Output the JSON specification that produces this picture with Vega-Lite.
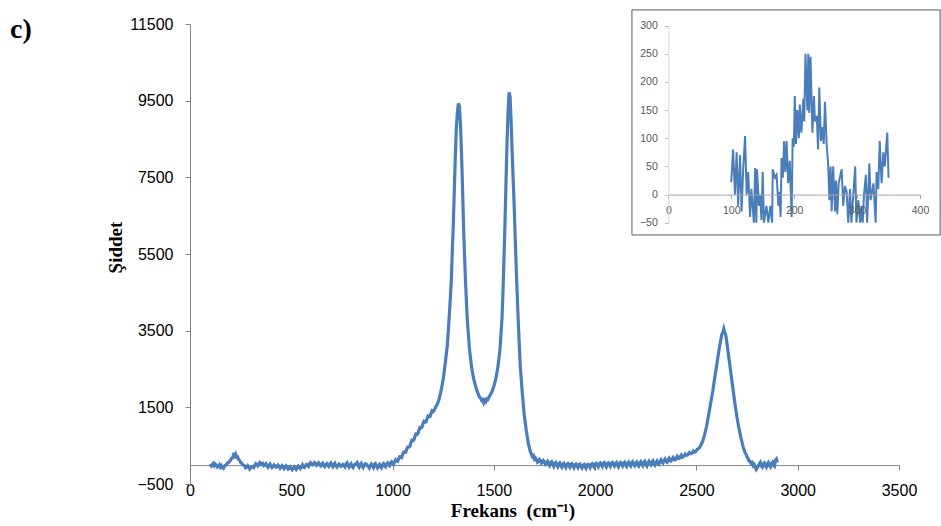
{
  "$schema": "https://vega.github.io/schema/vega-lite/v6.json",
  "width": 709,
  "height": 460,
  "autosize": {"type": "none"},
  "padding": {"left": 190, "top": 24, "right": 42, "bottom": 42},
  "background": "white",
  "config": {"view": {"stroke": null}, "axis": {"grid": false}},
  "title": {"text": "c)", "anchor": "start", "frame": "group", "font": "Liberation Serif", "fontWeight": "bold", "fontSize": 28, "color": "#000000", "offset": -19, "dx": -180, "dy": 38, "baseline": "alphabetic"},
  "datasets": {
    "main": [
      {"f":100,"i":20},{"f":105,"i":-30},{"f":110,"i":10},{"f":115,"i":40},{"f":120,"i":-20},{"f":125,"i":20},{"f":130,"i":-10},{"f":135,"i":-60},{"f":140,"i":-40},{"f":145,"i":0},{"f":150,"i":-60},{"f":155,"i":-20},{"f":160,"i":-70},{"f":165,"i":-90},{"f":170,"i":-40},{"f":175,"i":-10},{"f":180,"i":0},{"f":185,"i":50},{"f":190,"i":60},{"f":195,"i":90},{"f":200,"i":120},{"f":205,"i":170},{"f":210,"i":180},{"f":215,"i":260},{"f":220,"i":230},{"f":225,"i":280},{"f":230,"i":200},{"f":235,"i":210},{"f":240,"i":140},{"f":245,"i":110},{"f":250,"i":60},{"f":255,"i":50},{"f":260,"i":0},{"f":265,"i":-10},{"f":270,"i":-30},{"f":275,"i":-80},{"f":280,"i":-60},{"f":285,"i":-20},{"f":290,"i":-50},{"f":295,"i":-110},{"f":300,"i":-80},{"f":305,"i":-50},{"f":310,"i":-40},{"f":315,"i":-70},{"f":320,"i":-20},{"f":325,"i":30},{"f":330,"i":10},{"f":335,"i":-30},{"f":340,"i":0},{"f":345,"i":60},{"f":350,"i":40},{"f":355,"i":10},{"f":360,"i":30},{"f":365,"i":-20},{"f":370,"i":0},{"f":375,"i":30},{"f":380,"i":-20},{"f":385,"i":-60},{"f":390,"i":-10},{"f":395,"i":20},{"f":400,"i":-30},{"f":405,"i":-70},{"f":410,"i":-40},{"f":415,"i":0},{"f":420,"i":-20},{"f":425,"i":-60},{"f":430,"i":-50},{"f":435,"i":-10},{"f":440,"i":-40},{"f":445,"i":-90},{"f":450,"i":-60},{"f":455,"i":-20},{"f":460,"i":-50},{"f":465,"i":-100},{"f":470,"i":-70},{"f":475,"i":-30},{"f":480,"i":-60},{"f":485,"i":-110},{"f":490,"i":-90},{"f":495,"i":-50},{"f":500,"i":-80},{"f":505,"i":-130},{"f":510,"i":-100},{"f":515,"i":-50},{"f":520,"i":-70},{"f":525,"i":-120},{"f":530,"i":-80},{"f":535,"i":-30},{"f":540,"i":-50},{"f":545,"i":-90},{"f":550,"i":-40},{"f":555,"i":0},{"f":560,"i":-60},{"f":565,"i":-70},{"f":570,"i":-30},{"f":575,"i":10},{"f":580,"i":-10},{"f":585,"i":-40},{"f":590,"i":20},{"f":595,"i":60},{"f":600,"i":30},{"f":605,"i":0},{"f":610,"i":10},{"f":615,"i":60},{"f":620,"i":40},{"f":625,"i":-10},{"f":630,"i":20},{"f":635,"i":50},{"f":640,"i":0},{"f":645,"i":-30},{"f":650,"i":10},{"f":655,"i":40},{"f":660,"i":-20},{"f":665,"i":-50},{"f":670,"i":0},{"f":675,"i":30},{"f":680,"i":-10},{"f":685,"i":-40},{"f":690,"i":20},{"f":695,"i":50},{"f":700,"i":-10},{"f":705,"i":-50},{"f":710,"i":10},{"f":715,"i":40},{"f":720,"i":-30},{"f":725,"i":-60},{"f":730,"i":-20},{"f":735,"i":20},{"f":740,"i":0},{"f":745,"i":-40},{"f":750,"i":-30},{"f":755,"i":10},{"f":760,"i":-10},{"f":765,"i":-50},{"f":770,"i":20},{"f":775,"i":50},{"f":780,"i":-20},{"f":785,"i":-60},{"f":790,"i":0},{"f":795,"i":30},{"f":800,"i":-40},{"f":805,"i":-70},{"f":810,"i":-10},{"f":815,"i":20},{"f":820,"i":30},{"f":825,"i":60},{"f":830,"i":-20},{"f":835,"i":-60},{"f":840,"i":10},{"f":845,"i":40},{"f":850,"i":-30},{"f":855,"i":-70},{"f":860,"i":-10},{"f":865,"i":30},{"f":870,"i":20},{"f":875,"i":-30},{"f":880,"i":-40},{"f":885,"i":-80},{"f":890,"i":-10},{"f":895,"i":20},{"f":900,"i":-30},{"f":905,"i":-70},{"f":910,"i":10},{"f":915,"i":30},{"f":920,"i":-40},{"f":925,"i":-80},{"f":930,"i":-20},{"f":935,"i":10},{"f":940,"i":-50},{"f":945,"i":-80},{"f":950,"i":0},{"f":955,"i":30},{"f":960,"i":-20},{"f":965,"i":-50},{"f":970,"i":20},{"f":975,"i":50},{"f":980,"i":10},{"f":985,"i":-20},{"f":990,"i":40},{"f":995,"i":80},
      {"f":1000,"i":50},{"f":1005,"i":20},{"f":1010,"i":80},{"f":1015,"i":130},{"f":1020,"i":100},{"f":1025,"i":90},{"f":1030,"i":160},{"f":1035,"i":210},{"f":1040,"i":200},{"f":1045,"i":190},{"f":1050,"i":280},{"f":1055,"i":330},{"f":1060,"i":320},{"f":1065,"i":330},{"f":1070,"i":410},{"f":1075,"i":460},{"f":1080,"i":460},{"f":1085,"i":480},{"f":1090,"i":570},{"f":1095,"i":640},{"f":1100,"i":630},{"f":1105,"i":650},{"f":1110,"i":730},{"f":1115,"i":800},{"f":1120,"i":790},{"f":1125,"i":810},{"f":1130,"i":900},{"f":1135,"i":970},{"f":1140,"i":960},{"f":1145,"i":980},{"f":1150,"i":1070},{"f":1155,"i":1130},{"f":1160,"i":1110},{"f":1165,"i":1120},{"f":1170,"i":1200},{"f":1175,"i":1270},{"f":1180,"i":1250},{"f":1185,"i":1260},{"f":1190,"i":1340},{"f":1195,"i":1410},{"f":1200,"i":1390},{"f":1205,"i":1420},{"f":1210,"i":1480},{"f":1215,"i":1530},{"f":1220,"i":1570},{"f":1225,"i":1640},{"f":1230,"i":1720},{"f":1240,"i":1950},{"f":1250,"i":2230},{"f":1260,"i":2650},{"f":1270,"i":3100},{"f":1280,"i":3900},{"f":1290,"i":4800},{"f":1295,"i":5600},{"f":1300,"i":6300},{"f":1305,"i":7200},{"f":1310,"i":8100},{"f":1315,"i":8800},{"f":1320,"i":9200},{"f":1325,"i":9430},{"f":1330,"i":9350},{"f":1335,"i":8900},{"f":1340,"i":8200},{"f":1345,"i":7300},{"f":1350,"i":6300},{"f":1355,"i":5500},{"f":1360,"i":4800},{"f":1365,"i":4200},{"f":1370,"i":3700},{"f":1380,"i":3000},{"f":1390,"i":2550},{"f":1400,"i":2250},{"f":1410,"i":2050},{"f":1420,"i":1880},{"f":1430,"i":1760},{"f":1435,"i":1740},{"f":1440,"i":1680},{"f":1445,"i":1700},{"f":1450,"i":1620},{"f":1455,"i":1680},{"f":1460,"i":1650},{"f":1465,"i":1720},{"f":1470,"i":1700},{"f":1480,"i":1800},{"f":1490,"i":1900},{"f":1500,"i":2050},{"f":1510,"i":2250},{"f":1520,"i":2550},{"f":1530,"i":3000},{"f":1540,"i":3800},{"f":1545,"i":4500},{"f":1550,"i":5400},{"f":1555,"i":6300},{"f":1560,"i":7400},{"f":1565,"i":8400},{"f":1570,"i":9200},{"f":1575,"i":9720},{"f":1580,"i":9600},{"f":1585,"i":9000},{"f":1590,"i":8200},{"f":1595,"i":7500},{"f":1600,"i":6800},{"f":1605,"i":6000},{"f":1610,"i":5200},{"f":1615,"i":4500},{"f":1620,"i":3800},{"f":1625,"i":3200},{"f":1630,"i":2600},{"f":1640,"i":1900},{"f":1650,"i":1300},{"f":1660,"i":900},{"f":1670,"i":560},{"f":1680,"i":350},{"f":1690,"i":220},{"f":1695,"i":240},{"f":1700,"i":150},{"f":1705,"i":180},{"f":1710,"i":130},{"f":1715,"i":70},{"f":1720,"i":90},{"f":1725,"i":140},{"f":1730,"i":110},{"f":1735,"i":40},{"f":1740,"i":60},{"f":1745,"i":110},{"f":1750,"i":80},{"f":1755,"i":20},{"f":1760,"i":50},{"f":1765,"i":90},
      {"f":1770,"i":20},{"f":1775,"i":-20},{"f":1780,"i":60},{"f":1785,"i":80},{"f":1790,"i":10},{"f":1795,"i":-40},{"f":1800,"i":40},{"f":1805,"i":60},{"f":1810,"i":-10},{"f":1815,"i":-50},{"f":1820,"i":30},{"f":1825,"i":50},{"f":1830,"i":-20},{"f":1835,"i":-60},{"f":1840,"i":20},{"f":1845,"i":40},{"f":1850,"i":-30},{"f":1855,"i":-70},{"f":1860,"i":10},{"f":1865,"i":30},{"f":1870,"i":-20},{"f":1875,"i":-60},{"f":1880,"i":20},{"f":1885,"i":30},{"f":1890,"i":-40},{"f":1895,"i":-80},{"f":1900,"i":0},{"f":1905,"i":20},{"f":1910,"i":-30},{"f":1915,"i":-70},{"f":1920,"i":10},{"f":1925,"i":20},{"f":1930,"i":-40},{"f":1935,"i":-80},{"f":1940,"i":-10},{"f":1945,"i":10},{"f":1950,"i":-50},{"f":1955,"i":-90},{"f":1960,"i":0},{"f":1965,"i":10},{"f":1970,"i":-30},{"f":1975,"i":-70},{"f":1980,"i":10},{"f":1985,"i":30},{"f":1990,"i":-20},{"f":1995,"i":-60},{"f":2000,"i":20},{"f":2005,"i":40},{"f":2010,"i":-10},{"f":2015,"i":-50},{"f":2020,"i":30},{"f":2025,"i":50},{"f":2030,"i":0},{"f":2035,"i":-40},{"f":2040,"i":40},{"f":2045,"i":60},{"f":2050,"i":-10},{"f":2055,"i":-50},{"f":2060,"i":30},{"f":2065,"i":50},{"f":2070,"i":0},{"f":2075,"i":-40},{"f":2080,"i":40},{"f":2085,"i":60},{"f":2090,"i":10},{"f":2095,"i":-30},{"f":2100,"i":30},{"f":2105,"i":60},{"f":2110,"i":-10},{"f":2115,"i":-50},{"f":2120,"i":40},{"f":2125,"i":60},{"f":2130,"i":10},{"f":2135,"i":-30},{"f":2140,"i":50},{"f":2145,"i":70},{"f":2150,"i":0},{"f":2155,"i":-40},{"f":2160,"i":40},{"f":2165,"i":70},{"f":2170,"i":10},{"f":2175,"i":-30},{"f":2180,"i":50},{"f":2185,"i":80},{"f":2190,"i":20},{"f":2195,"i":-20},{"f":2200,"i":40},{"f":2205,"i":70},{"f":2210,"i":0},{"f":2215,"i":-30},{"f":2220,"i":50},{"f":2225,"i":80},{"f":2230,"i":20},{"f":2235,"i":-20},{"f":2240,"i":60},{"f":2245,"i":90},{"f":2250,"i":10},{"f":2255,"i":-30},{"f":2260,"i":50},{"f":2265,"i":90},{"f":2270,"i":30},{"f":2275,"i":0},{"f":2280,"i":70},{"f":2285,"i":100},{"f":2290,"i":20},{"f":2295,"i":-10},{"f":2300,"i":60},{"f":2305,"i":100},{"f":2310,"i":40},{"f":2315,"i":20},{"f":2320,"i":90},{"f":2325,"i":130},{"f":2330,"i":70},{"f":2335,"i":50},{"f":2340,"i":110},{"f":2345,"i":150},{"f":2350,"i":90},{"f":2355,"i":70},{"f":2360,"i":130},{"f":2365,"i":170},{"f":2370,"i":110},{"f":2375,"i":100},{"f":2380,"i":150},{"f":2385,"i":190},{"f":2390,"i":140},{"f":2395,"i":130},{"f":2400,"i":180},{"f":2405,"i":220},{"f":2410,"i":170},{"f":2415,"i":170},{"f":2420,"i":210},{"f":2425,"i":250},{"f":2430,"i":200},{"f":2435,"i":210},{"f":2440,"i":240},{"f":2445,"i":280},{"f":2450,"i":250},{"f":2455,"i":250},{"f":2460,"i":280},{"f":2465,"i":320},{"f":2470,"i":290},{"f":2475,"i":290},{"f":2480,"i":320},{"f":2485,"i":360},{"f":2490,"i":330},{"f":2495,"i":340},{"f":2500,"i":370},{"f":2505,"i":410},{"f":2510,"i":420},{"f":2515,"i":450},{"f":2520,"i":500},{"f":2530,"i":600},{"f":2540,"i":780},{"f":2550,"i":1000},{"f":2560,"i":1300},{"f":2570,"i":1600},{"f":2580,"i":1900},{"f":2590,"i":2250},{"f":2600,"i":2600},{"f":2610,"i":2950},{"f":2620,"i":3250},{"f":2625,"i":3400},{"f":2630,"i":3450},{"f":2635,"i":3550},{"f":2640,"i":3450},{"f":2645,"i":3380},{"f":2650,"i":3200},{"f":2660,"i":2800},{"f":2670,"i":2400},{"f":2680,"i":2000},{"f":2690,"i":1600},{"f":2700,"i":1250},{"f":2710,"i":950},{"f":2720,"i":700},{"f":2730,"i":480},{"f":2740,"i":320},{"f":2745,"i":280},{"f":2750,"i":200},{"f":2755,"i":170},{"f":2760,"i":100},{"f":2765,"i":90},{"f":2770,"i":40},{"f":2775,"i":60},{"f":2780,"i":-20},{"f":2785,"i":10},{"f":2790,"i":-60},{"f":2795,"i":-120},{"f":2800,"i":-80},{"f":2805,"i":-30},{"f":2810,"i":20},{"f":2815,"i":60},{"f":2820,"i":-30},{"f":2825,"i":-60},{"f":2830,"i":30},{"f":2835,"i":50},{"f":2840,"i":-20},{"f":2845,"i":-60},{"f":2850,"i":20},{"f":2855,"i":60},{"f":2860,"i":-10},{"f":2865,"i":-50},{"f":2870,"i":40},{"f":2875,"i":70},{"f":2880,"i":-20},{"f":2885,"i":-40},{"f":2890,"i":120},{"f":2895,"i":150},{"f":2900,"i":60}
    ],
    "inset": [
      {"x":100,"y":22},{"x":103,"y":80},{"x":106,"y":0},{"x":108.6,"y":75},{"x":111,"y":-20},{"x":114,"y":70},{"x":116.5,"y":-30},{"x":119,"y":45},{"x":122,"y":104},{"x":124.5,"y":0},{"x":127,"y":40},{"x":130,"y":-40},{"x":132,"y":10},{"x":136,"y":-50},{"x":138,"y":47},{"x":140,"y":-50},{"x":141,"y":45},{"x":144,"y":-20},{"x":146,"y":0},{"x":148,"y":-45},{"x":150,"y":40},{"x":152,"y":-50},{"x":156,"y":-20},{"x":159,"y":-50},{"x":162,"y":-20},{"x":165,"y":-50},{"x":166,"y":45},{"x":169.5,"y":30},{"x":172,"y":35},{"x":175,"y":-20},{"x":176.5,"y":5},{"x":178.5,"y":-40},{"x":180,"y":65},{"x":182,"y":30},{"x":184,"y":95},{"x":186,"y":40},{"x":188,"y":95},{"x":190.5,"y":20},{"x":193,"y":60},{"x":196,"y":-40},{"x":197.6,"y":100},{"x":199.5,"y":85},{"x":201,"y":175},{"x":203,"y":90},{"x":205,"y":150},{"x":207.5,"y":100},{"x":209,"y":160},{"x":211.5,"y":110},{"x":214.6,"y":170},{"x":216,"y":130},{"x":218,"y":250},{"x":221,"y":150},{"x":222.5,"y":250},{"x":224,"y":145},{"x":226,"y":245},{"x":229,"y":110},{"x":231.5,"y":175},{"x":233,"y":130},{"x":236,"y":140},{"x":238,"y":80},{"x":240,"y":190},{"x":242.5,"y":95},{"x":244.5,"y":120},{"x":247,"y":90},{"x":249,"y":165},{"x":251.6,"y":90},{"x":254,"y":55},{"x":256,"y":-10},{"x":258,"y":50},{"x":259.6,"y":-30},{"x":262,"y":50},{"x":265,"y":-30},{"x":266.5,"y":25},{"x":268.6,"y":-35},{"x":270.7,"y":20},{"x":275.5,"y":45},{"x":278,"y":-20},{"x":280.7,"y":15},{"x":283.4,"y":5},{"x":286,"y":-50},{"x":288.7,"y":10},{"x":291,"y":-50},{"x":297,"y":50},{"x":299,"y":-50},{"x":302,"y":-10},{"x":305,"y":-50},{"x":307,"y":-20},{"x":309,"y":-50},{"x":311,"y":0},{"x":314,"y":35},{"x":316,"y":-50},{"x":319.5,"y":55},{"x":321.5,"y":-10},{"x":326,"y":20},{"x":329.5,"y":-50},{"x":331,"y":40},{"x":333.7,"y":10},{"x":336,"y":95},{"x":339,"y":20},{"x":341.7,"y":75},{"x":344,"y":50},{"x":348,"y":110},{"x":350,"y":30}
    ]
  },
  "layer": [
    {
      "data": {"name": "main"},
      "mark": {"type": "line", "color": "#4A7EBB", "strokeWidth": 3.2},
      "encoding": {
        "x": {"field": "f", "type": "quantitative",
          "scale": {"domain": [0, 3500], "nice": false, "zero": false},
          "axis": {"orient": "bottom", "offset": -18.9, "values": [0,500,1000,1500,2000,2500,3000,3500], "format": "d",
            "domainColor": "#868686", "tickColor": "#868686", "tickSize": 5,
            "labelBaseline": "alphabetic", "labelPadding": 25, "labelFont": "Liberation Sans", "labelFontSize": 16, "labelColor": "#000000", "labelFlush": false, "labelOverlap": false,
            "title": "Frekans\u00a0 (cm⁻¹)", "titleFont": "Liberation Serif", "titleFontWeight": "bold", "titleFontSize": 19, "titleColor": "#000000",
            "titleX": 322.5, "titleY": 51, "titleBaseline": "alphabetic", "titleAlign": "center"}},
        "y": {"field": "i", "type": "quantitative",
          "scale": {"domain": [-500, 11500], "nice": false, "zero": false},
          "axis": {"orient": "left", "values": [-500,1500,3500,5500,7500,9500,11500], "format": "d",
            "domainColor": "#868686", "tickColor": "#868686", "tickSize": 5,
            "labelPadding": 12, "labelFont": "Liberation Sans", "labelFontSize": 16, "labelColor": "#000000",
            "title": "Şiddet", "titleFont": "Liberation Serif", "titleFontWeight": "bold", "titleFontSize": 19, "titleColor": "#000000",
            "titleX": -69, "titleY": 223, "titleBaseline": "alphabetic", "titleAlign": "center", "titleAngle": 270}}
      }
    },
    {
      "layer": [
        {
          "data": {"values": [{}]},
          "mark": {"type": "rect", "fill": "#ffffff", "stroke": "#595959", "strokeWidth": 1},
          "encoding": {
            "x": {"datum": -57.8, "type": "quantitative", "scale": {"domain": [0, 400], "range": [478.3, 730], "nice": false, "zero": false}},
            "x2": {"datum": 432},
            "y": {"datum": -71.8, "type": "quantitative", "scale": {"domain": [-50, 300], "range": [198.7, 1.7], "nice": false, "zero": false}},
            "y2": {"datum": 328}
          }
        },
        {
          "data": {"name": "inset"},
          "mark": {"type": "line", "color": "#4A7EBB", "strokeWidth": 2},
          "encoding": {
            "x": {"field": "x", "type": "quantitative",
              "scale": {"domain": [0, 400], "range": [478.3, 730], "nice": false, "zero": false},
              "axis": {"orient": "bottom", "offset": -289.4, "zindex": 1, "values": [0,100,200,300,400], "format": "d",
                "domainColor": "#a6a6a6", "tickColor": "#a6a6a6", "tickSize": 4,
                "labelBaseline": "alphabetic", "labelPadding": 15, "labelFont": "Liberation Sans", "labelFontSize": 10.5, "labelColor": "#595959", "labelFlush": false, "labelOverlap": false, "title": null}},
            "y": {"field": "y", "type": "quantitative",
              "scale": {"domain": [-50, 300], "range": [198.7, 1.7], "nice": false, "zero": false},
              "axis": {"orient": "left", "offset": -478.3, "zindex": 1, "values": [-50,0,50,100,150,200,250,300], "format": "d",
                "domainColor": "#d9d9d9", "tickColor": "#bfbfbf", "tickSize": 4,
                "labelPadding": 7, "labelFont": "Liberation Sans", "labelFontSize": 10.5, "labelColor": "#595959", "labelOverlap": false, "title": null}}
          }
        }
      ]
    }
  ],
  "resolve": {"scale": {"x": "independent", "y": "independent"}}
}
